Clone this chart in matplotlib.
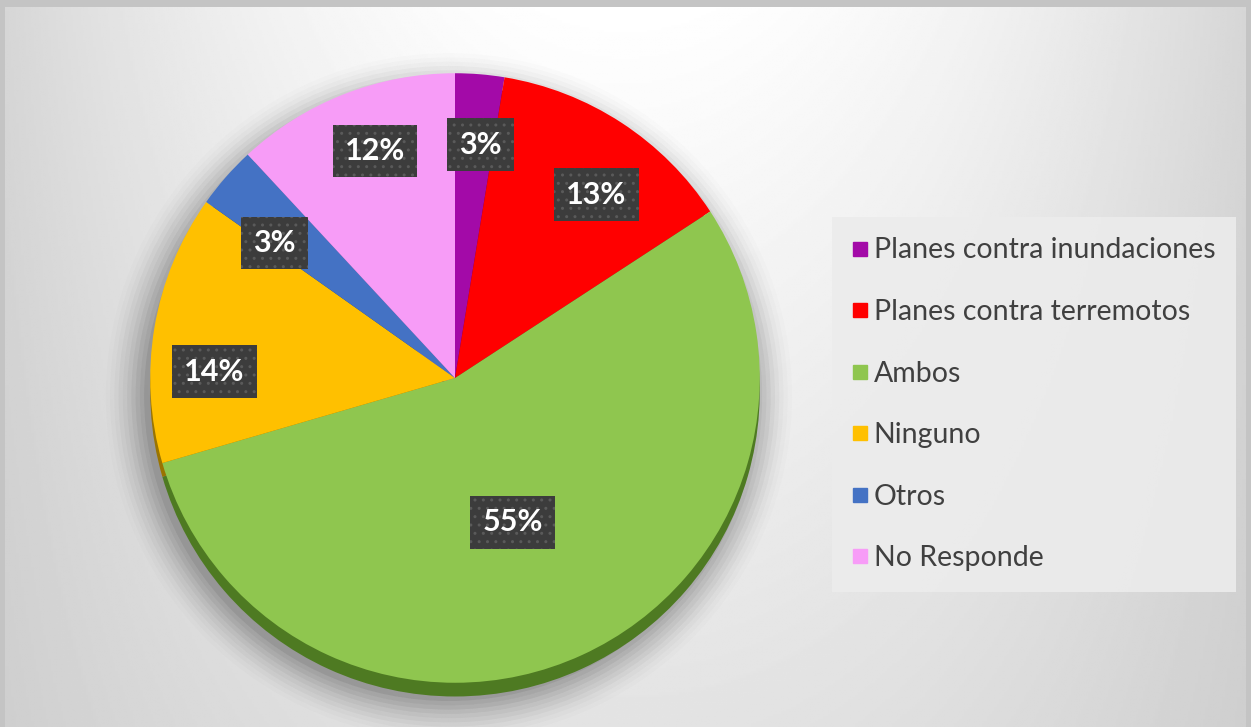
import numpy as np
import matplotlib.pyplot as plt
from matplotlib.lines import Line2D
from matplotlib.patches import Circle

categorias = ["Planes contra inundaciones", "Planes contra terremotos", "Ambos",
              "Ninguno", "Otros", "No Responde"]
valores = [2.6, 13.2, 54.7, 14.3, 3.3, 11.9]
colores = ["#A30AA8", "#FF0000", "#8FC64F", "#FFC000", "#4472C4", "#F79CF7"]
bordes = ["#5c0560", "#8a0000", "#4e7a22", "#9a7400", "#23406e", "#9a5a9a"]

# ajuste de las etiquetas: giro (grados) y distancia al centro
giro = [-1.5, -4.5, -3, 8, 4.5, -2]
dist = [0.77, 0.76, 0.51, 0.79, 0.74, 0.79]

W, H = 1251, 727
fig = plt.figure(figsize=(W / 100, H / 100), dpi=100)
fig.patch.set_facecolor("#c4c4c4")

# fondo degradado
bg = fig.add_axes([5 / W, 0, 1 - 10 / W, 1 - 7 / H])
yy, xx = np.mgrid[0:1:300j, 0:1:500j]
u2 = ((xx - 0.5) / 0.5) ** 2
img = 1 - 0.16 * u2 - 0.11 * yy + 0.08 * u2 * yy
bg.imshow(img, cmap="gray", vmin=0, vmax=1, aspect="auto", extent=[0, 1, 1, 0])
bg.axis("off")

cx, cy, R = 455, 378, 320
ax = fig.add_axes([(cx - R) / W, (H - cy - R) / H, 2 * R / W, 2 * R / H])

# sombra difusa
for i, a in enumerate(np.linspace(0.06, 0.01, 10)):
    ax.add_patch(Circle((-0.02, -0.06), 1.0 + 0.014 * i, color="black", alpha=a,
                        lw=0, zorder=0, clip_on=False))

# borde 3D
ax.pie(valores, colors=bordes, startangle=90, counterclock=False, radius=1.0,
       center=(0, -0.045), wedgeprops=dict(lw=0, zorder=1, clip_on=False))

wedges, textos, pcts = ax.pie(
    valores, colors=colores, startangle=90, counterclock=False, radius=1.0,
    autopct="%.0f%%", wedgeprops=dict(lw=0, zorder=2),
    textprops=dict(color="white", fontsize=22, fontweight="bold", family="Lato"))

ax.set_xlim(-1.05, 1.05)
ax.set_ylim(-1.05, 1.05)
ax.set_aspect("equal")
ax.axis("off")

for w, t, g, r in zip(wedges, pcts, giro, dist):
    ang = np.deg2rad((w.theta1 + w.theta2) / 2 + g)
    t.set_position((r * np.cos(ang), r * np.sin(ang)))
    t.set_zorder(5)
    t.set_bbox(dict(boxstyle="square,pad=0.4", fc="#3c3c3c", ec="#5a5a5a",
                    lw=0, hatch=".."))

handles = [Line2D([], [], marker="s", ls="none", color=c, markersize=10)
           for c in colores]
leg = fig.legend(handles, categorias, loc="upper left",
                 bbox_to_anchor=(832 / W, 1 - 217 / H), frameon=True,
                 fancybox=False, facecolor="#ececec", edgecolor="none",
                 framealpha=0.9, handlelength=0.5, handletextpad=0.25,
                 labelspacing=1.25, borderpad=0.72, borderaxespad=0,
                 prop=dict(family="Lato", size=20.5))
for t in leg.get_texts():
    t.set_color("#404040")

fig.savefig("out.png", dpi=100, facecolor=fig.get_facecolor())
